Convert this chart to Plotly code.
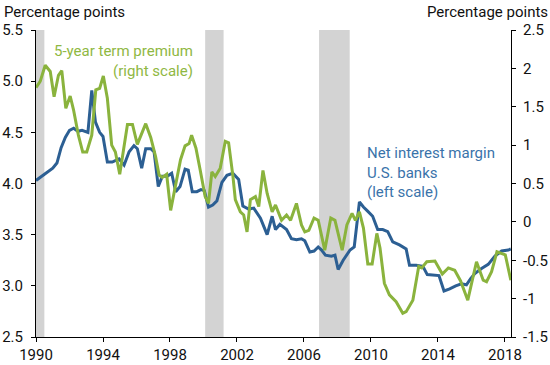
import plotly.graph_objects as go

# ---- Data ----
nim_years = [1990.0, 1990.5, 1991.0, 1991.25, 1991.5, 1991.75, 1992.0, 1992.25, 1992.5, 1992.75,
             1993.0, 1993.1, 1993.33, 1993.55, 1993.8, 1994.0, 1994.26, 1994.55, 1994.96, 1995.26,
             1995.56, 1995.85, 1996.05, 1996.31, 1996.55, 1996.85, 1997.05, 1997.3, 1997.54, 1997.84,
             1998.1, 1998.34, 1998.6, 1998.9, 1999.09, 1999.33, 1999.6, 1999.85, 2000.05, 2000.3,
             2000.55, 2000.8, 2001.1, 2001.4, 2001.75, 2002.1, 2002.35, 2002.7, 2003.0, 2003.4,
             2003.8, 2004.1, 2004.3, 2004.56, 2004.96, 2005.25, 2005.55, 2005.85, 2006.05, 2006.35,
             2006.6, 2006.85, 2007.05, 2007.28, 2007.64, 2007.85, 2008.04, 2008.34, 2008.75, 2009.0,
             2009.31, 2009.55, 2009.8, 2010.1, 2010.4, 2010.7, 2011.0, 2011.3, 2011.7, 2012.1,
             2012.3, 2012.7, 2013.1, 2013.36, 2014.06, 2014.36, 2014.7, 2015.06, 2015.4, 2015.7,
             2015.95, 2016.2, 2016.6, 2017.0, 2017.4, 2017.8, 2018.2, 2018.35]
nim_values = [4.03, 4.09, 4.15, 4.20, 4.35, 4.45, 4.52, 4.54, 4.51, 4.52,
              4.50, 4.50, 4.91, 4.60, 4.50, 4.46, 4.21, 4.21, 4.24, 4.18,
              4.31, 4.37, 4.34, 4.15, 4.34, 4.34, 4.31, 3.97, 4.07, 4.07,
              4.10, 3.92, 3.97, 4.14, 4.13, 3.92, 3.92, 3.94, 3.93, 3.77,
              3.79, 3.83, 4.01, 4.08, 4.10, 4.04, 3.78, 3.75, 3.76, 3.66,
              3.50, 3.68, 3.55, 3.60, 3.55, 3.46, 3.45, 3.46, 3.44, 3.33,
              3.34, 3.38, 3.35, 3.30, 3.29, 3.30, 3.16, 3.25, 3.35, 3.38,
              3.82, 3.77, 3.73, 3.68, 3.55, 3.55, 3.53, 3.43, 3.40, 3.36,
              3.20, 3.20, 3.19, 3.11, 3.10, 2.95, 2.97, 3.00, 3.02, 3.01,
              3.07, 3.12, 3.17, 3.21, 3.29, 3.34, 3.35, 3.36]

tp_years = [1990.0, 1990.25, 1990.55, 1990.85, 1991.08, 1991.34, 1991.54, 1991.78, 1992.04, 1992.24,
            1992.53, 1992.79, 1993.03, 1993.33, 1993.57, 1993.8, 1994.02, 1994.26, 1994.52, 1994.74,
            1995.0, 1995.46, 1995.76, 1996.05, 1996.55, 1996.85, 1997.14, 1997.35, 1997.54, 1997.8,
            1998.04, 1998.34, 1998.63, 1998.9, 1999.14, 1999.29, 1999.55, 1999.8, 2000.1, 2000.3,
            2000.5, 2000.7, 2001.0, 2001.3, 2001.5, 2001.76, 2001.9, 2002.2, 2002.4, 2002.6,
            2002.8, 2003.1, 2003.3, 2003.55, 2003.8, 2004.1, 2004.3, 2004.66, 2004.96, 2005.2,
            2005.55, 2005.85, 2006.05, 2006.29, 2006.6, 2006.85, 2007.24, 2007.6, 2007.85, 2008.28,
            2008.56, 2008.87, 2009.07, 2009.31, 2009.55, 2009.81, 2010.07, 2010.35, 2010.54, 2010.8,
            2011.1, 2011.5, 2011.9, 2012.1, 2012.5, 2012.85, 2013.03, 2013.33, 2013.82, 2014.26,
            2014.62, 2015.0, 2015.35, 2015.78, 2016.3, 2016.7, 2016.9, 2017.2, 2017.52, 2018.02,
            2018.35]
tp_values = [1.75, 1.83, 2.04, 1.96, 1.63, 1.91, 1.97, 1.48, 1.64, 1.46,
             1.13, 0.91, 0.91, 1.13, 1.72, 1.74, 1.90, 1.61, 1.00, 0.91,
             0.62, 1.27, 1.27, 1.01, 1.28, 1.10, 0.85, 0.61, 0.58, 0.62,
             0.15, 0.50, 0.81, 0.99, 1.02, 1.13, 0.96, 0.68, 0.33, 0.24,
             0.65, 0.59, 0.70, 1.05, 1.03, 0.59, 0.29, 0.13, 0.09, -0.13,
             0.29, 0.33, 0.20, 0.67, 0.37, 0.13, 0.22, 0.02, 0.09, 0.02,
             0.24, -0.04, -0.13, -0.11, 0.05, 0.02, -0.37, 0.05, 0.02, -0.37,
             -0.04, 0.11, 0.02, 0.13, -0.08, -0.55, -0.55, -0.15, -0.34, -0.80,
             -0.95, -1.04, -1.19, -1.17, -1.02, -0.58, -0.60, -0.52, -0.51, -0.68,
             -0.60, -0.63, -0.77, -1.02, -0.52, -0.76, -0.78, -0.65, -0.39, -0.43,
             -0.76]

recession_starts = [1990.0, 2000.1, 2006.9]
recession_ends = [1990.5, 2001.2, 2008.73]

x_tick_values = [1990, 1994, 1998, 2002, 2006, 2010, 2014, 2018]
x_tick_labels = ["1990", "1994", "1998", "2002", "2006", "2010", "2014", "2018"]
left_tick_values = [2.5, 3.0, 3.5, 4.0, 4.5, 5.0, 5.5]
left_tick_labels = ["2.5", "3.0", "3.5", "4.0", "4.5", "5.0", "5.5"]
right_tick_values = [-1.5, -1.0, -0.5, 0, 0.5, 1.0, 1.5, 2.0, 2.5]
right_tick_labels = ["-1.5", "-1", "-0.5", "0", "0.5", "1", "1.5", "2", "2.5"]

BLUE = "#2c5f93"
BLUE_TEXT = "#3a73aa"
GREEN = "#8ab33d"
GREEN_TEXT = "#8fb843"
SHADE = "#d3d3d3"
FONT = "Roboto"
FS = 15

fig = go.Figure()

fig.add_trace(go.Scatter(x=nim_years, y=nim_values, mode="lines",
                         line=dict(color=BLUE, width=3), yaxis="y", showlegend=False))
fig.add_trace(go.Scatter(x=tp_years, y=tp_values, mode="lines",
                         line=dict(color=GREEN, width=3), yaxis="y2", showlegend=False))

for s, e in zip(recession_starts, recession_ends):
    fig.add_shape(type="rect", xref="x", yref="paper", x0=s, x1=e, y0=0, y1=1,
                  fillcolor=SHADE, line=dict(width=0), layer="below")

axis_common = dict(showgrid=False, zeroline=False, showline=True, linecolor="black",
                   linewidth=1, ticks="outside", ticklen=4, tickcolor="black",
                   automargin=False,
                   tickfont=dict(family=FONT, size=FS, color="#111"))

fig.update_layout(
    width=550, height=365,
    margin=dict(l=35.5, r=39, t=30, b=28, autoexpand=False),
    plot_bgcolor="white", paper_bgcolor="white",
    font=dict(family=FONT, size=FS, color="#111"),
    xaxis=dict(range=[1990, 2018.36], tickvals=x_tick_values, ticktext=x_tick_labels, **axis_common),
    yaxis=dict(range=[2.5, 5.5], tickvals=left_tick_values, ticktext=left_tick_labels,
               ticklabelstandoff=5, **axis_common),
    yaxis2=dict(range=[-1.5, 2.5], tickvals=right_tick_values, ticktext=right_tick_labels,
                overlaying="y", side="right", ticklabelstandoff=4, **axis_common),
)

def px_x(px):
    return (px - 35.5) / 475.5

def px_y(py):
    return (337 - py) / 307

annotations = [
    dict(text="Percentage points", x=px_x(1), y=px_y(12), xanchor="left", yanchor="middle",
         font=dict(family=FONT, size=FS, color="#111")),
    dict(text="Percentage points", x=px_x(550), y=px_y(12), xanchor="right", yanchor="middle",
         font=dict(family=FONT, size=FS, color="#111")),
    dict(text="5-year term premium<br>(right scale)", x=px_x(195), y=px_y(61), xanchor="right",
         yanchor="middle", align="right", font=dict(family=FONT, size=FS, color=GREEN_TEXT)),
    dict(text="Net interest margin<br>U.S. banks<br>(left scale)", x=px_x(365), y=px_y(172),
         xanchor="left", yanchor="middle", align="left",
         font=dict(family=FONT, size=FS, color=BLUE_TEXT)),
]
for a in annotations:
    a.update(xref="paper", yref="paper", showarrow=False)
fig.update_layout(annotations=annotations)

fig.write_html("out.html", config={"displayModeBar": False},
               post_script="document.body.style.margin='0';document.body.style.padding='0';")
